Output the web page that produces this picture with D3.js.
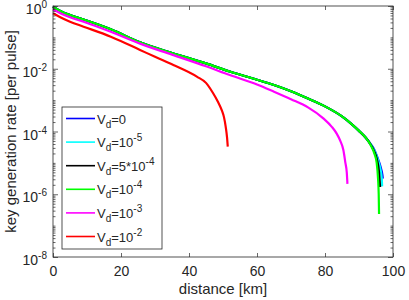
<!DOCTYPE html>
<html><head><meta charset="utf-8">
<script src="https://cdn.jsdelivr.net/npm/d3@7"></script>
<style>body{margin:0;background:#fff}svg{display:block;font-family:"Liberation Sans",Arial,Helvetica,sans-serif}</style>
</head><body><svg id="c" width="409" height="300"></svg>
<script>
// Data (distance in km, key rate per pulse)
const seriesNames = ["0", "10^-5", "5*10^-4", "10^-4", "10^-3", "10^-2"];
const seriesColors = ["#0000ff", "#00ffff", "#000000", "#00ff00", "#ff00ff", "#ff0000"];

const distBlue = [0,2,5,9,17,25.6,35,45,52,60,65,70,75,80,85,88,90,92,93.5,94.5,95.5,96.4,96.9,97.0];
const rateBlue = [0.955,0.708,0.513,0.372,0.182,0.0692,0.0316,0.0148,8.13e-3,4.47e-3,3.02e-3,1.91e-3,1.12e-3,6.31e-4,3.02e-4,1.66e-4,1.05e-4,6.31e-5,3.89e-5,2.63e-5,1.41e-5,7.08e-6,3.98e-6,3.16e-6];

const distCyan = [0,2,5,9,17,25.6,35,45,52,60,65,70,75,80,85,88,90,92,93.5,94.5,95.5,96.3,96.7,96.8];
const rateCyan = [0.955,0.708,0.513,0.372,0.182,0.0692,0.0316,0.0148,8.13e-3,4.47e-3,3.02e-3,1.91e-3,1.12e-3,6.31e-4,3.02e-4,1.66e-4,1.05e-4,6.31e-5,3.8e-5,2.51e-5,1.32e-5,6.31e-6,3.16e-6,1.78e-6];

const distBlack = [0,2,5,9,17,25.6,35,45,52,60,65,70,75,80,85,88,90,92,93.5,94.5,95.3,95.9,96.2];
const rateBlack = [0.955,0.708,0.513,0.372,0.182,0.0692,0.0316,0.0148,8.13e-3,4.47e-3,3.02e-3,1.91e-3,1.12e-3,6.31e-4,3.02e-4,1.66e-4,1.05e-4,6.31e-5,3.72e-5,2.29e-5,1.26e-5,5.0e-6,1.7e-6];

const distGreen = [0,2,5,9,17,25.6,35,45,52,60,65,70,75,80,85,88,90,92,93.5,94.5,95.2,95.6,95.8,95.9];
const rateGreen = [0.955,0.708,0.513,0.372,0.182,0.0692,0.0316,0.0148,8.13e-3,4.47e-3,3.02e-3,1.91e-3,1.12e-3,6.31e-4,3.02e-4,1.66e-4,1.05e-4,6.31e-5,3.55e-5,2.0e-5,1.0e-5,3.16e-6,1.0e-6,2.34e-7];

const distMagenta = [0,2,5,9,17,25.6,35,45,52,60,65,70,75,79.5,82,83.4,84.5,85.4,86,86.4,86.6];
const rateMagenta = [0.776,0.603,0.437,0.316,0.151,0.0631,0.0282,0.0120,6.31e-3,3.16e-3,1.86e-3,1.07e-3,5.89e-4,2.63e-4,1.41e-4,8.71e-5,5.01e-5,2.57e-5,1.0e-5,5.01e-6,2.14e-6];

const distRed = [0,2,5,9,17,25.6,30,35.4,42.3,45,47.1,48.5,49.6,50.3,50.8,51.2,51.4];
const rateRed = [0.589,0.447,0.316,0.219,0.105,0.0398,0.024,0.0132,5.62e-3,3.55e-3,1.66e-3,8.91e-4,4.9e-4,2.82e-4,1.41e-4,6.31e-5,3.31e-5];

const xTicks = [0,20,40,60,80,100];
const yTickExps = [0,-2,-4,-6,-8];

const series = [
  [distBlue, rateBlue], [distCyan, rateCyan], [distBlack, rateBlack],
  [distGreen, rateGreen], [distMagenta, rateMagenta], [distRed, rateRed]
];

const svg = d3.select("#c");
const L = 53, R = 393, T = 6, B = 257;
const x = d3.scaleLinear().domain([0,100]).range([L,R]);
const y = d3.scaleLog().domain([1e-8,1]).range([B,T]);
const axisColor = "#262626";

// curves
const line = d3.line().x(d => x(d[0])).y(d => y(d[1])).curve(d3.curveMonotoneX);
series.forEach((s,i) => {
  const pts = s[0].map((d,j) => [d, s[1][j]]);
  svg.append("path").datum(pts).attr("d", line)
    .attr("fill","none").attr("stroke", seriesColors[i]).attr("stroke-width",2.2)
    .attr("stroke-linejoin","round");
});

// axes box
svg.append("rect").attr("x",L).attr("y",T).attr("width",R-L).attr("height",B-T)
  .attr("fill","none").attr("stroke",axisColor).attr("stroke-width",0.8);

// x ticks (inward, bottom & top)
const gx = svg.append("g").attr("transform",`translate(0,${B})`)
  .call(d3.axisBottom(x).tickValues(xTicks).tickSize(-4).tickPadding(9).tickFormat(d3.format("d")));
svg.append("g").attr("transform",`translate(0,${T})`)
  .call(d3.axisTop(x).tickValues(xTicks).tickSize(-4).tickFormat(""));

// y ticks: major at labelled decades, minor elsewhere
const minor = [];
for (let e = -8; e < 0; e++) for (let m = 2; m <= 9; m++) minor.push(m*Math.pow(10,e));
const oddDecades = d3.range(-8,1).filter(e => yTickExps.indexOf(e) < 0).map(e => Math.pow(10,e));
const majors = yTickExps.map(e => Math.pow(10,e));
[[L, d3.axisLeft], [R, d3.axisRight]].forEach(([px, ax]) => {
  svg.append("g").attr("transform",`translate(${px},0)`).call(ax(y).tickValues(majors).tickSize(-5).tickFormat(""));
  svg.append("g").attr("transform",`translate(${px},0)`).call(ax(y).tickValues(minor.concat(oddDecades)).tickSize(-2.5).tickFormat(""));
});

svg.selectAll(".domain").remove();
svg.selectAll(".tick line").attr("stroke",axisColor).attr("stroke-width",0.7);
gx.selectAll(".tick text").attr("fill",axisColor).attr("font-size",14)
  .style("font-family","'Liberation Sans',Arial,sans-serif");

// y tick labels 10^e
yTickExps.forEach(e => {
  const t = svg.append("text").attr("x", L-6).attr("y", y(Math.pow(10,e))+8)
    .attr("text-anchor","end").attr("fill",axisColor).attr("font-size",14);
  t.append("tspan").text("10");
  t.append("tspan").attr("font-size",10).attr("dy",-6).text(String(e));
});

// axis labels
svg.append("text").attr("x",(L+R)/2).attr("y",294).attr("text-anchor","middle")
  .attr("fill",axisColor).attr("font-size",15).text("distance [km]");
svg.append("text").attr("transform",`translate(16,${(T+B)/2}) rotate(-90)`).attr("text-anchor","middle")
  .attr("fill",axisColor).attr("font-size",15).text("key generation rate [per pulse]");

// legend
const lx = 62, ly = 107, lw = 100, lh = 142;
svg.append("rect").attr("x",lx).attr("y",ly).attr("width",lw).attr("height",lh)
  .attr("fill","#fff").attr("stroke",axisColor).attr("stroke-width",0.8);
seriesNames.forEach((n,i) => {
  const yy = ly + 11.5 + i*23.6;
  svg.append("line").attr("x1",lx+4).attr("x2",lx+33).attr("y1",yy).attr("y2",yy)
    .attr("stroke",seriesColors[i]).attr("stroke-width",1.6);
  const t = svg.append("text").attr("x",lx+35).attr("y",yy+5).attr("fill",axisColor).attr("font-size",13);
  t.append("tspan").text("V");
  t.append("tspan").attr("font-size",10).attr("dy",4).text("d");
  t.append("tspan").attr("dy",-4).text("=");
  const m = n.match(/^(.*?)10\^(-?\d+)$/);
  if (m) {
    t.append("tspan").text(m[1] + "10");
    t.append("tspan").attr("font-size",10).attr("dy",-6).text(m[2]);
  } else {
    t.append("tspan").text(n);
  }
});
</script></body></html>
